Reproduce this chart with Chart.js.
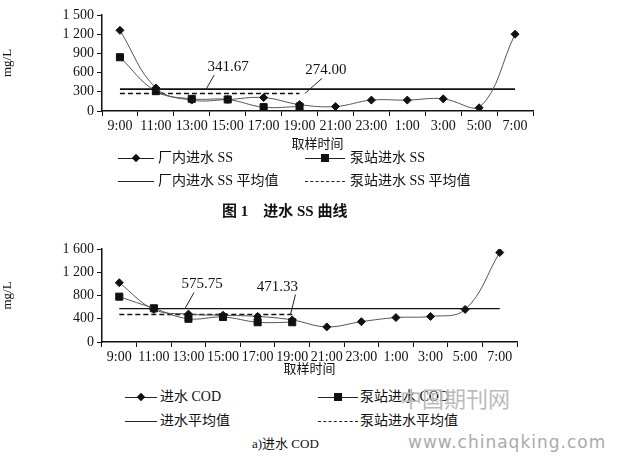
<!DOCTYPE html>
<html><head><meta charset="utf-8">
<script src="https://cdn.jsdelivr.net/npm/chart.js@4"></script>
<style>
body{margin:0;background:#fff;width:638px;height:459px;position:relative;overflow:hidden;font-family:"Liberation Serif","Noto Sans CJK SC",serif;color:#111}
canvas{position:absolute;left:0}
.t{position:absolute;font-size:14px;white-space:nowrap;line-height:16px}
.ln{position:absolute;height:0;border-top:1.5px solid #222}
.dl{position:absolute;height:0;border-top:1.5px dashed #222}
.dm{position:absolute;width:6px;height:6px;background:#111;transform:rotate(45deg)}
.sq{position:absolute;width:8px;height:8px;background:#111}
</style></head><body>
<div style="position:absolute;left:0;top:0;width:540px;height:155px"><canvas id="c1"></canvas></div>
<div style="position:absolute;left:0;top:235px;width:540px;height:145px"><canvas id="c2"></canvas></div>

<div class="ln" style="left:118px;top:158px;width:36px"></div><div class="dm" style="left:133px;top:155px"></div>
<div class="t" style="left:158px;top:150px">厂内进水 SS</div>
<div class="ln" style="left:305px;top:158px;width:40px"></div><div class="sq" style="left:321px;top:154px"></div>
<div class="t" style="left:350px;top:150px">泵站进水 SS</div>
<div class="ln" style="left:118px;top:181px;width:36px"></div>
<div class="t" style="left:158px;top:173px">厂内进水 SS 平均值</div>
<div class="dl" style="left:305px;top:181px;width:40px"></div>
<div class="t" style="left:350px;top:173px">泵站进水 SS 平均值</div>
<div class="t" style="left:222px;top:203px;font-weight:bold;font-size:15px">图 1　进水 SS 曲线</div>

<div class="ln" style="left:125px;top:397px;width:32px"></div><div class="dm" style="left:138px;top:394px"></div>
<div class="t" style="left:160px;top:389px">进水 COD</div>
<div class="ln" style="left:318px;top:397px;width:40px"></div><div class="sq" style="left:334px;top:393px"></div>
<div class="t" style="left:360px;top:389px">泵站进水 COD</div>
<div class="ln" style="left:125px;top:421px;width:32px;border-top-width:1px"></div>
<div class="t" style="left:160px;top:413px">进水平均值</div>
<div class="dl" style="left:318px;top:421px;width:40px;border-top-width:1px"></div>
<div class="t" style="left:360px;top:413px">泵站进水平均值</div>
<div class="t" style="left:252px;top:436px;font-size:13px">a)进水 COD</div>
<div class="t" style="left:400px;top:388px;font-size:22px;color:#bbb;line-height:24px">中国期刊网</div>
<div class="t" style="left:408px;top:434px;font-size:17px;color:#aaa;letter-spacing:1px;font-family:'DejaVu Sans'">www.chinaqking.com</div>
<script>
const times=["9:00","11:00","13:00","15:00","17:00","19:00","21:00","23:00","1:00","3:00","5:00","7:00"];
const ssPlant=[1260,360,170,180,210,100,70,170,170,190,50,1200];
const ssPump=[840,310,190,180,60,70];
const ssPlantAvg=341.67, ssPumpAvg=274.00;
const codPlant=[1020,560,480,460,440,380,260,350,420,440,560,1540];
const codPump=[780,580,400,430,340,340];
const codPlantAvg=575.75, codPumpAvg=471.33;

const fmt=v=>{const s=String(v);return s.length>3?s.slice(0,-3)+' '+s.slice(-3):s;};
function make(id,plant,pump,pAvg,qAvg,max,step,top,bottomH,right,ann){
  const full=times.map(()=>pAvg), part=times.map((_,i)=>i<pump.length?qAvg:null);
  const annPlugin={id:'ann',afterDatasetsDraw(c){
    const x=c.scales.x,y=c.scales.y,ctx=c.ctx;ctx.save();ctx.strokeStyle='#222';ctx.lineWidth=1;ctx.fillStyle='#111';
    ctx.font='15px "Liberation Serif"';ctx.textAlign='center';ctx.textBaseline='middle';
    ann.forEach(a=>{const x0=x.getPixelForValue(a.i),y0=y.getPixelForValue(a.v);
      ctx.beginPath();ctx.moveTo(x0,y0);ctx.lineTo(x0+a.dx,y0-a.dy);ctx.stroke();
      ctx.fillText(a.t,x0+a.dx+a.tx,y0-a.dy-8);});
    ctx.restore();}};
  new Chart(document.getElementById(id),{type:'line',
    data:{labels:times,datasets:[
      {data:plant,borderColor:'#555',borderWidth:1,tension:0.4,pointStyle:'rectRot',pointRadius:4,pointBackgroundColor:'#111',pointBorderColor:'#111'},
      {data:pump,borderColor:'#555',borderWidth:1,tension:0.4,pointStyle:'rect',pointRadius:5,pointBackgroundColor:'#111',pointBorderColor:'#111'},
      {data:full,borderColor:'#111',borderWidth:id==='c1'?1.8:1.2,pointRadius:0},
      {data:part,borderColor:'#111',borderWidth:1.5,borderDash:[5,3],pointRadius:0}]},
    options:{responsive:true,maintainAspectRatio:false,animation:false,
      layout:{padding:{top:top,right:right,left:0,bottom:0}},
      plugins:{legend:{display:false},tooltip:{enabled:false}},
      scales:{
        x:{offset:true,grid:{display:true,drawOnChartArea:false,offset:true,color:'#111',tickLength:5},border:{color:'#111',width:1.5},
           ticks:{color:'#111',font:{family:'Liberation Serif',size:14},padding:2,maxRotation:0,autoSkip:false},
           title:{display:true,text:'取样时间',color:'#111',font:{family:'Noto Sans CJK SC',size:13},padding:{top:0}},
           afterFit(s){s.height=bottomH;}},
        y:{min:0,max:max,ticks:{stepSize:step,autoSkip:false,color:'#111',font:{family:'Liberation Serif',size:14},padding:3,callback:v=>fmt(v)},
           grid:{drawOnChartArea:false,color:'#111',tickLength:5},border:{color:'#111',width:1.5},
           title:{display:true,text:'mg/L',color:'#111',font:{family:'Liberation Serif',size:13},padding:0},
           afterFit(s){s.width=102;}}}},
    plugins:[annPlugin]});
}
make('c1',ssPlant,ssPump,ssPlantAvg,ssPumpAvg,1500,300,15,44,7,
  [{i:2.4,v:ssPlantAvg,dx:8,dy:14,t:'341.67',tx:14},{i:5.15,v:ssPumpAvg,dx:17,dy:15,t:'274.00',tx:4}]);
make('c2',codPlant,codPump,codPlantAvg,codPumpAvg,1600,400,14,38,23,
  [{i:1.9,v:codPlantAvg,dx:9,dy:16,t:'575.75',tx:8},{i:4.95,v:codPumpAvg,dx:5,dy:20,t:'471.33',tx:-18}]);
</script></body></html>
